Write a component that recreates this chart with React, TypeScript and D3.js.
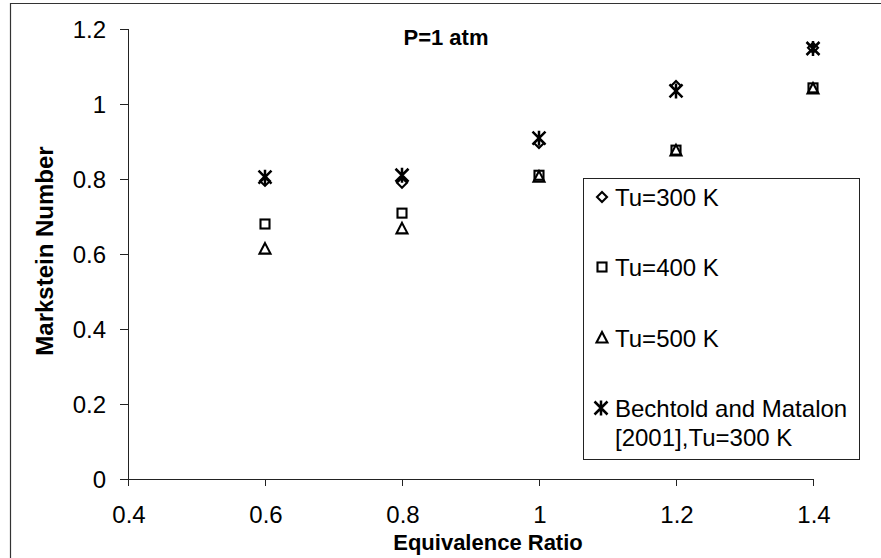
import React from "react";
import * as d3 from "d3";

const phi = [0.6, 0.8, 1.0, 1.2, 1.4];
const tu300 = [0.795, 0.79, 0.896, 1.048, 1.15];
const tu400 = [0.68, 0.709, 0.81, 0.877, 1.043];
const tu500 = [0.613, 0.667, 0.805, 0.875, 1.04];
const bechtold = [0.805, 0.81, 0.909, 1.035, 1.148];
const xTicks = [0.4, 0.6, 0.8, 1.0, 1.2, 1.4];
const yTicks = [0, 0.2, 0.4, 0.6, 0.8, 1.0, 1.2];
const legendLabels = ["Tu=300 K", "Tu=400 K", "Tu=500 K", "Bechtold and Matalon", "[2001],Tu=300 K"];

const W = 881, H = 558;
const x = d3.scaleLinear().domain([0.4, 1.4]).range([128, 813]);
const y = d3.scaleLinear().domain([0, 1.2]).range([479, 29]);
const FONT = "'Liberation Sans', Arial, sans-serif";

type Kind = "diamond" | "square" | "triangle" | "asterisk";

function Marker({ kind, cx, cy }: { kind: Kind; cx: number; cy: number }) {
  const s = { fill: "none", stroke: "#000", strokeWidth: 2.1 } as const;
  if (kind === "diamond")
    return <path d={`M${cx},${cy - 5}L${cx + 5},${cy}L${cx},${cy + 5}L${cx - 5},${cy}Z`} {...s} />;
  if (kind === "square") return <rect x={cx - 4.5} y={cy - 4.5} width={9} height={9} {...s} />;
  if (kind === "triangle")
    return <path d={`M${cx},${cy - 6}L${cx + 5.5},${cy + 4.5}L${cx - 5.5},${cy + 4.5}Z`} {...s} />;
  const r = 7.5;
  return (
    <path
      d={`M${cx},${cy - r}L${cx},${cy + r}M${cx - 6.5},${cy - 6.5}L${cx + 6.5},${cy + 6.5}M${cx + 6.5},${cy - 6.5}L${cx - 6.5},${cy + 6.5}`}
      fill="none"
      stroke="#000"
      strokeWidth={2.5}
    />
  );
}

const series: { kind: Kind; values: number[] }[] = [
  { kind: "square", values: tu400 },
  { kind: "triangle", values: tu500 },
  { kind: "diamond", values: tu300 },
  { kind: "asterisk", values: bechtold },
];

export default function App() {
  const x0 = x.range()[0];
  const y0 = y.range()[0];
  return (
    <svg width={W} height={H} style={{ position: "absolute", left: 0, top: 0, background: "#fff" }} fontFamily={FONT}>
      <rect x={0} y={0} width={W} height={H} fill="#fff" />
      {/* outer frame */}
      <path d={`M10.5,${H}L10.5,3.5L${W},3.5`} fill="none" stroke="#333" strokeWidth={1.2} />
      {/* axes */}
      <line x1={x0 + 0.5} x2={x0 + 0.5} y1={y(1.2)} y2={y0 + 7} stroke="#222" strokeWidth={1} />
      <line x1={x0 - 7} x2={x(1.4)} y1={y0 + 0.5} y2={y0 + 0.5} stroke="#222" strokeWidth={1} />
      {yTicks.map((t) => (
        <g key={"y" + t}>
          <line x1={x0 - 8} x2={x0} y1={Math.round(y(t)) + 0.5} y2={Math.round(y(t)) + 0.5} stroke="#222" />
          <text x={106} y={y(t) + 8.5} fontSize={24} textAnchor="end" fill="#000">
            {d3.format("~g")(t)}
          </text>
        </g>
      ))}
      {xTicks.map((t) => (
        <g key={"x" + t}>
          <line x1={Math.round(x(t)) + 0.5} x2={Math.round(x(t)) + 0.5} y1={y0} y2={y0 + 7} stroke="#222" />
          <text x={x(t) + 1} y={523} fontSize={24} textAnchor="middle" fill="#000">
            {d3.format("~g")(t)}
          </text>
        </g>
      ))}
      <text x={488} y={550} fontSize={22} fontWeight="bold" textAnchor="middle">
        Equivalence Ratio
      </text>
      <text transform={`translate(53,251) rotate(-90)`} fontSize={24} fontWeight="bold" textAnchor="middle">
        Markstein Number
      </text>
      <text x={446} y={45} fontSize={22} fontWeight="bold" textAnchor="middle">
        P=1 atm
      </text>
      {/* data */}
      {series.map((s) =>
        s.values.map((v, i) => <Marker key={s.kind + i} kind={s.kind} cx={x(phi[i])} cy={y(v)} />)
      )}
      {/* legend */}
      <rect x={583.5} y={178.5} width={276} height={281} fill="#fff" stroke="#222" strokeWidth={1} />
      <Marker kind="diamond" cx={602} cy={197} />
      <text x={615} y={205.5} fontSize={24}>{legendLabels[0]}</text>
      <Marker kind="square" cx={602} cy={267} />
      <text x={615} y={275.5} fontSize={24}>{legendLabels[1]}</text>
      <Marker kind="triangle" cx={602} cy={338} />
      <text x={615} y={346.5} fontSize={24}>{legendLabels[2]}</text>
      <Marker kind="asterisk" cx={601} cy={408} />
      <text x={615} y={416.5} fontSize={24}>{legendLabels[3]}</text>
      <text x={615} y={445.5} fontSize={24}>{legendLabels[4]}</text>
    </svg>
  );
}
